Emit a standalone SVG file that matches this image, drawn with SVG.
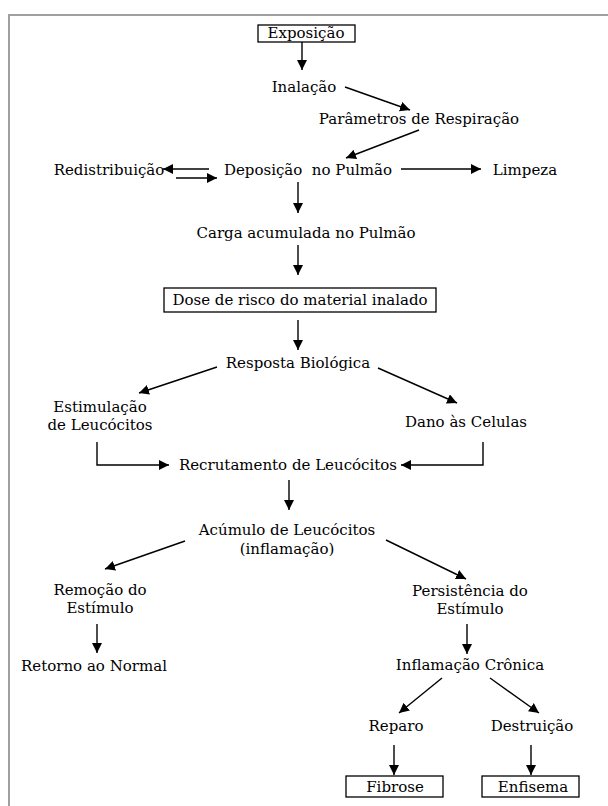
<svg xmlns="http://www.w3.org/2000/svg" width="608" height="806" viewBox="0 0 608 806">
<defs>
<marker id="ah" markerUnits="userSpaceOnUse" markerWidth="11" markerHeight="11" refX="10" refY="5" orient="auto">
<path d="M0,0 L10,5 L0,10 z" fill="#000"/>
</marker>
<style>
text{font-family:"DejaVu Serif","Liberation Serif",serif;font-size:15px;fill:#000;text-anchor:middle}
.box{fill:#fff;stroke:#000;stroke-width:1.3}
.c{fill:none;stroke:#000;stroke-width:1.4;marker-end:url(#ah)}
.frame{fill:none;stroke:#a0a0a0;stroke-width:2}
</style>
</defs>
<rect width="608" height="806" fill="#fff"/>
<path class="frame" d="M9,806 L9,15 L608,15"/>
<g id="connectors">
<line class="c" x1="302" y1="42" x2="302" y2="70"/>
<line class="c" x1="345" y1="87" x2="410" y2="110"/>
<line class="c" x1="419" y1="130" x2="346" y2="158"/>
<line class="c" x1="209" y1="169" x2="163" y2="169"/>
<line class="c" x1="176" y1="178" x2="217" y2="178"/>
<line class="c" x1="401" y1="169" x2="481" y2="169"/>
<line class="c" x1="298" y1="182" x2="298" y2="213"/>
<line class="c" x1="298" y1="245" x2="298" y2="275"/>
<line class="c" x1="298" y1="320" x2="298" y2="350"/>
<line class="c" x1="217" y1="367" x2="139" y2="393"/>
<line class="c" x1="378" y1="368" x2="457" y2="403"/>
<polyline class="c" points="97,442 97,465 169,465"/>
<polyline class="c" points="483,442 483,465 401,465"/>
<line class="c" x1="289" y1="480" x2="289" y2="510"/>
<line class="c" x1="185" y1="541" x2="105" y2="569"/>
<line class="c" x1="386" y1="540" x2="466" y2="579"/>
<line class="c" x1="97" y1="624" x2="97" y2="653"/>
<line class="c" x1="467" y1="624" x2="467" y2="654"/>
<line class="c" x1="442" y1="678" x2="399" y2="713"/>
<line class="c" x1="490" y1="678" x2="539" y2="713"/>
<line class="c" x1="394" y1="745" x2="394" y2="775"/>
<line class="c" x1="531" y1="745" x2="531" y2="775"/>
</g>
<g id="exposicao"><rect class="box" x="258" y="25" width="97" height="17"/><text x="306" y="38">Exposição</text></g>
<g id="inalacao"><text x="304" y="92">Inalação</text></g>
<g id="parametros"><text x="419" y="124">Parâmetros de Respiração</text></g>
<g id="redistribuicao"><text x="109" y="175">Redistribuição</text></g>
<g id="deposicao"><text x="308" y="175" xml:space="preserve">Deposição  no Pulmão</text></g>
<g id="limpeza"><text x="525" y="175">Limpeza</text></g>
<g id="carga"><text x="306" y="238">Carga acumulada no Pulmão</text></g>
<g id="dose"><rect class="box" x="164" y="288" width="272" height="24"/><text x="300" y="305">Dose de risco do material inalado</text></g>
<g id="resposta"><text x="298" y="368">Resposta Biológica</text></g>
<g id="estimulacao"><text x="100" y="412">Estimulação</text><text x="100" y="430">de Leucócitos</text></g>
<g id="dano"><text x="466" y="427">Dano às Celulas</text></g>
<g id="recrutamento"><text x="288" y="470">Recrutamento de Leucócitos</text></g>
<g id="acumulo"><text x="287" y="535">Acúmulo de Leucócitos</text><text x="287" y="554">(inflamação)</text></g>
<g id="remocao"><text x="100" y="595">Remoção do</text><text x="100" y="613">Estímulo</text></g>
<g id="persistencia"><text x="470" y="596">Persistência do</text><text x="470" y="614">Estímulo</text></g>
<g id="retorno"><text x="94" y="671">Retorno ao Normal</text></g>
<g id="inflamacao-cronica"><text x="470" y="670">Inflamação Crônica</text></g>
<g id="reparo"><text x="396" y="731">Reparo</text></g>
<g id="destruicao"><text x="532" y="731">Destruição</text></g>
<g id="fibrose"><rect class="box" x="346" y="776" width="97" height="21"/><text x="395" y="792">Fibrose</text></g>
<g id="enfisema"><rect class="box" x="482" y="776" width="97" height="21"/><text x="533" y="792">Enfisema</text></g>
</svg>
